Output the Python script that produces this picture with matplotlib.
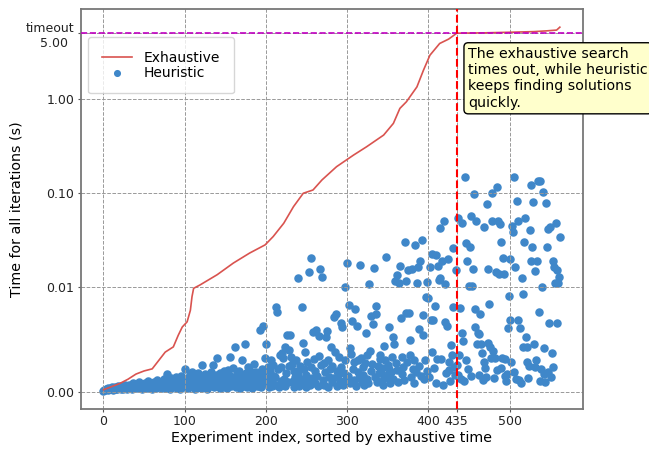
import matplotlib
matplotlib.use("Agg")
import matplotlib.pyplot as plt
import numpy as np

# Exhaustive search time (s), read at selected experiment indices
exh_idx = [0, 10, 20, 30, 40, 50, 60, 68, 76, 86, 92, 97, 103, 107, 109, 111, 119,
           140, 160, 180, 199, 209, 222, 234, 246, 258, 269, 287, 308, 324, 345,
           357, 365, 373, 386, 394, 402, 414, 425, 435, 470, 500, 530, 546, 558, 562]
exh_s = [0.0002, 0.0005, 0.0008, 0.0012, 0.0017, 0.0020, 0.0022, 0.0030, 0.0038,
         0.0043, 0.0054, 0.0062, 0.0067, 0.0078, 0.0091, 0.0099, 0.0106,
         0.0136, 0.0181, 0.0231, 0.0282, 0.0346, 0.0479, 0.0719, 0.0997, 0.108,
         0.138, 0.191, 0.254, 0.311, 0.414, 0.551, 0.795, 0.934, 1.346, 2.02,
         2.92, 3.89, 4.33, 5.0, 5.05, 5.12, 5.2, 5.3, 5.4, 5.8]

# Heuristic time (ms), one value per experiment index 0..562
heur_ms = [
    0.1, 0.2, 0.15, 0.3, 0.25, 0.2, 0.35, 0.3, 0.25, 0.4,
    0.3, 0.45, 0.2, 0.35, 0.5, 0.3, 0.4, 0.25, 0.55, 0.35,
    0.4, 0.3, 0.6, 0.45, 0.25, 0.5, 0.35, 0.65, 0.4, 0.3,
    0.5, 0.7, 0.35, 0.45, 0.6, 0.3, 0.8, 0.5, 0.4, 0.65,
    0.55, 0.35, 0.75, 0.5, 0.9, 0.4, 0.6, 0.3, 0.7, 0.5,
    0.45, 0.85, 0.6, 0.35, 0.7, 1.0, 0.5, 0.4, 0.8, 0.55,
    0.3, 0.65, 0.9, 0.5, 0.75, 0.4, 1.1, 0.6, 0.45, 0.8,
    0.55, 0.95, 0.35, 0.7, 0.5, 1.2, 0.6, 0.4, 1.75, 0.65,
    0.5, 0.9, 0.3, 1.3, 0.7, 0.45, 1.0, 0.6, 0.8, 1.4,
    0.4, 0.75, 1.1, 0.55, 0.3, 0.9, 1.5, 0.6, 0.45, 1.0,
    2.2, 0.7, 0.5, 1.3, 0.35, 0.85, 1.6, 0.6, 1.0, 1.9,
    0.45, 1.2, 0.75, 0.3, 1.5, 0.9, 0.55, 1.8, 0.7, 1.1,
    0.4, 2.55, 0.8, 1.3, 0.5, 1.7, 0.65, 1.0, 0.3, 1.4,
    0.9, 0.55, 1.9, 0.7, 1.2, 2.6, 0.45, 1.0, 1.6, 0.8,
    3.25, 0.6, 1.3, 0.35, 1.8, 0.9, 1.1, 0.5, 2.0, 1.5,
    0.7, 1.2, 0.4, 2.1, 0.95, 1.6, 3.35, 0.6, 1.4, 0.8,
    2.3, 1.0, 4.3, 0.5, 1.7, 1.2, 0.7, 2.0, 0.4, 1.5,
    3.0, 0.9, 1.3, 0.6, 4.6, 1.8, 1.1, 0.5, 2.4, 1.4,
    0.8, 2.0, 1.2, 0.4, 1.6, 2.7, 0.7, 1.0, 1.9, 0.6,
    1.4, 0.6, 0.9, 5.9, 0.5, 2.2, 1.7, 6.3, 1.1, 3.2,
    4.6, 0.8, 2.4, 1.3, 0.5, 2.0, 3.0, 1.0, 0.6, 2.6,
    1.5, 1.4, 0.7, 8.15, 7.6, 2.2, 0.5, 3.5, 2.4, 1.0,
    3.7, 3.2, 1.2, 0.6, 4.3, 1.8, 5.4, 0.9, 4.0, 2.5,
    5.4, 3.3, 2.7, 1.0, 0.5, 2.0, 1.4, 3.0, 0.8, 12.6,
    1.8, 0.6, 2.5, 1.2, 8.1, 0.9, 4.7, 2.2, 3.8, 0.5,
    1.6, 2.9, 1.0, 14.7, 0.7, 2.4, 20.7, 1.3, 5.75, 3.1,
    0.8, 2.0, 5.9, 1.5, 0.6, 3.4, 5.3, 15.6, 2.6, 12.8,
    1.1, 0.7, 2.8, 1.9, 5.2, 5.85, 0.5, 3.0, 1.4, 2.2,
    4.3, 0.9, 2.5, 1.3, 7.2, 3.8, 7.45, 0.6, 2.0, 1.6,
    3.3, 1.0, 6.55, 2.4, 6.2, 0.7, 1.8, 10.0, 3.0, 1.2,
    18.1, 1.5, 8.3, 4.15, 0.8, 3.6, 6.8, 2.2, 1.1, 2.9,
    7.9, 0.6, 6.3, 1.9, 3.0, 1.3, 17.3, 3.2, 0.9, 2.4,
    1.6, 0.7, 2.8, 5.65, 1.2, 3.5, 0.8, 10.8, 3.9, 2.0,
    7.3, 2.7, 6.45, 16.0, 1.4, 7.45, 8.2, 0.9, 2.5, 1.8,
    3.1, 3.5, 1.0, 2.3, 0.7, 1.6, 4.4, 3.0, 21.2, 1.3,
    2.6, 6.2, 2.2, 0.8, 1.9, 3.3, 5.2, 1.2, 4.6, 11.8,
    2.8, 2.05, 13.4, 0.9, 11.2, 16.8, 7.1, 3.35, 1.7, 2.4,
    1.1, 30.4, 11.7, 7.5, 2.9, 15.3, 7.5, 5.0, 3.5, 1.4,
    15.6, 2.2, 0.8, 3.0, 28.0, 1.9, 11.2, 16.4, 6.0, 2.45,
    19.2, 1.5, 31.9, 5.4, 7.35, 1.2, 3.0, 9.05, 11.3, 2.0,
    9.0, 1.4, 16.6, 6.9, 3.8, 22.5, 6.9, 2.3, 8.2, 0.85,
    22.1, 3.1, 16.9, 11.9, 42.4, 12.5, 3.1, 18.8, 0.7, 50.6,
    6.7, 10.9, 1.8, 6.3, 19.9, 2.9, 2.05, 1.05, 4.5, 3.5,
    26.4, 8.1, 2.4, 1.6, 15.3,
    2.55, 1.6, 54.2, 3.5, 8.0, 1.2, 5.6, 48.7, 4.9, 1.0,
    147, 3.0, 29.4, 18.8, 2.2, 10.2, 26.7, 57.3, 1.5, 10.2,
    15.6, 97.4, 7.9, 6.2, 50, 4.6, 5.65, 1.6, 5.5, 7.4,
    4.6, 3.7, 1.1, 44.2, 2.9, 2.3, 1.4, 76.9, 4.7, 15.6,
    8.4, 4.3, 3.25, 51, 99.5, 3.9, 1.3, 3.25, 14.5, 117,
    2.1, 50, 13.8, 46.8, 2.3, 29.9, 3.2, 20.4, 13.9, 1.5,
    3.1, 1.0, 1.75, 6.1, 9.2, 19.9, 6.9, 2.9, 44.9, 38.2,
    1.9, 150, 16.4, 1.2, 82.6, 50, 6.9, 1.1, 6.1, 0.85,
    12.5, 4.3, 9.4, 30.6, 54.2, 5.2, 2.9, 4.3, 1.3, 2.45,
    40.7, 19.2, 122, 26.7, 80, 4.6, 2.4, 14.9, 3.0, 18.8,
    134, 7.6, 1.0, 134, 2.2, 10.0, 104, 4.15, 1.75, 0.9,
    79, 26.7, 41.4, 1.9, 6.55, 44.2, 1.4, 3.7, 18.8, 2.4,
    16.6, 11.0, 47.9, 6.55, 15.1, 11.2, 13.0, 34.5,
]

timeout_s = 5.0
timeout_idx = 435
yticks = [0, 0.01, 0.1, 1, 5]
ytick_labels = ["0.00", "0.01", "0.10", "1.00", "timeout\n5.00\u2002"]
xticks = [0, 100, 200, 300, 400, 435, 500]
xtick_labels = ["0", "100", "200", "300", "400", "435", "500"]

heur_idx = np.arange(len(heur_ms))
heur_s = np.array(heur_ms) / 1000.0

fig = plt.figure(figsize=(6.49, 4.49), dpi=100)
ax = fig.add_axes([0.1243, 0.0891, 0.7735, 0.8909])

ax.scatter(heur_idx, heur_s, s=26, color="#3f87c9", label="Heuristic", zorder=1)
ax.plot(exh_idx, exh_s, color="#d9534f", lw=1.2, label="Exhaustive", zorder=2)

ax.set_yscale("symlog", linthresh=0.01, linscale=1)
ax.yaxis.set_minor_locator(matplotlib.ticker.NullLocator())
ax.set_yticks(yticks)
ax.set_yticklabels(ytick_labels)
ax.set_xticks(xticks)
ax.set_xticklabels(xtick_labels)
for lbl in ax.get_xticklabels():
    if lbl.get_text() == "435":
        lbl.set_color("red")

ax.grid(True, linestyle="--", color="#999999", linewidth=0.7)
ax.axhline(timeout_s, color="#c000c0", linestyle="--", lw=1.2, zorder=3)
ax.axvline(timeout_idx, color="red", linestyle="--", lw=1.5, zorder=3)

ax.tick_params(axis="both", labelsize=9, labelcolor="#222222", color="#555555",
               length=2.5, pad=2)
for sp in ax.spines.values():
    sp.set_color("#777777")
    sp.set_linewidth(1.3)

ax.set_xlabel("Experiment index, sorted by exhaustive time", fontsize=10.3, labelpad=2)
ax.set_ylabel("Time for all iterations (s)", fontsize=10.3, labelpad=2)

handles, labels = ax.get_legend_handles_labels()
order = [1, 0]
ax.legend([handles[i] for i in order], [labels[i] for i in order],
          loc="upper left", bbox_to_anchor=(0.0145, 0.93), borderaxespad=0,
          fontsize=10, borderpad=1.0, labelspacing=0.05, handlelength=2.2,
          scatterpoints=1, markerscale=0.8)

ax.text(0.772, 0.905, "The exhaustive search\ntimes out, while heuristic\nkeeps finding solutions\nquickly.",
        transform=ax.transAxes, ha="left", va="top", fontsize=10.2, clip_on=False,
        bbox=dict(boxstyle="round,pad=0.3", fc="#ffffcc", ec="black", lw=1))

fig.savefig("out.png", dpi=100)
